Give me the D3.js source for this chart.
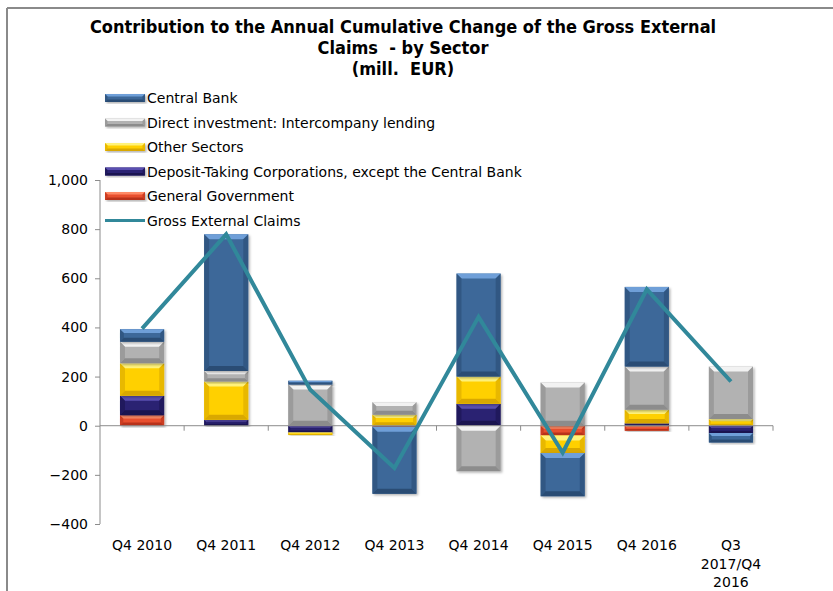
<!DOCTYPE html>
<html>
<head>
<meta charset="utf-8">
<script src="https://cdn.jsdelivr.net/npm/d3@7/dist/d3.min.js"></script>
<style>
  html, body { margin: 0; padding: 0; background: #fff; }
  svg { display: block; }
  text { font-family: "DejaVu Sans", sans-serif; fill: #000; }
  text.title { font-family: "DejaVu Sans Condensed", "DejaVu Sans", sans-serif; }
</style>
</head>
<body>
<svg id="chart" width="833" height="591"></svg>
<script>
// Quarterly contributions by sector (mill. EUR)
const categories = ["Q4 2010", "Q4 2011", "Q4 2012", "Q4 2013", "Q4 2014", "Q4 2015", "Q4 2016", "Q3 2017/Q4 2016"];
const categoryLines = [["Q4 2010"], ["Q4 2011"], ["Q4 2012"], ["Q4 2013"], ["Q4 2014"], ["Q4 2015"], ["Q4 2016"], ["Q3", "2017/Q4", "2016"]];
const generalGovernment = [43, 0, 0, -4, 0, -40, -20, 0];
const depositTaking = [79, 24, -28, 0, 89, 0, 10, -30];
const otherSectors = [132, 156, -10, 45, 111, -71, 55, 27];
const directInvestment = [88, 43, 168, 51, -185, 176, 176, 214];
const centralBank = [51, 556, 15, -273, 419, -176, 324, -38];
const grossExternalClaims = [395, 779, 146, -172, 443, -110, 555, 180];
const yTicks = [-400, -200, 0, 200, 400, 600, 800, 1000];

// Stack order from zero outward; legend lists them in reverse
const series = [
  { key: "gg", name: "General Government", values: generalGovernment, base: "#E8502E", light: "#FF8A66", dark: "#B8321A" },
  { key: "dt", name: "Deposit-Taking Corporations, except the Central Bank", values: depositTaking, base: "#2B2272", light: "#5A4FB0", dark: "#1A1450" },
  { key: "os", name: "Other Sectors", values: otherSectors, base: "#FFD000", light: "#FFF27A", dark: "#D9A800" },
  { key: "di", name: "Direct investment: Intercompany lending", values: directInvestment, base: "#B2B2B2", light: "#F2F2F2", dark: "#8C8C8C" },
  { key: "cb", name: "Central Bank", values: centralBank, base: "#3C6899", light: "#6F9FD8", dark: "#2A4C74" }
];
const lineColor = "#31889A";

const svg = d3.select("#chart");

// Outer frame (top and left edges)
svg.append("line").attr("x1", 7).attr("x2", 833).attr("y1", 8).attr("y2", 8).attr("stroke", "#8a8a8a").attr("stroke-width", 2);
svg.append("line").attr("x1", 7).attr("x2", 7).attr("y1", 8).attr("y2", 591).attr("stroke", "#8a8a8a").attr("stroke-width", 2);

// Title
const title = svg.append("text").attr("class", "title").attr("text-anchor", "middle").attr("font-weight", "bold").attr("font-size", 18);
[["Contribution to the Annual Cumulative Change of the Gross External", 33], ["Claims  - by Sector", 54], ["(mill.  EUR)", 75]]
  .forEach(([t, y]) => title.append("tspan").attr("x", 403).attr("y", y).attr("xml:space", "preserve").text(t));

// Scales
const x = d3.scaleBand().domain(categories).range([100, 773]).paddingInner(0.475).paddingOuter(0.2375);
const y = d3.scaleLinear().domain([-400, 1000]).range([524, 180]);

// Drop shadow for bars
const defs = svg.append("defs");
const f = defs.append("filter").attr("id", "shadow").attr("x", "-20%").attr("y", "-20%").attr("width", "140%").attr("height", "140%");
f.append("feDropShadow").attr("dx", 1.5).attr("dy", 1.5).attr("stdDeviation", 1.2).attr("flood-color", "#000").attr("flood-opacity", 0.3);

// Axes
const yAxis = svg.append("g").attr("transform", "translate(100,0)")
  .call(d3.axisLeft(y).tickValues(yTicks).tickSize(5).tickPadding(7).tickFormat(d3.format(",")));
yAxis.select(".domain").attr("stroke", "#8c8c8c").attr("d", `M0,${y(1000)}V${y(-400)}`);
yAxis.selectAll(".tick line").attr("stroke", "#8c8c8c");
yAxis.selectAll(".tick text").attr("font-size", 14).attr("font-family", "DejaVu Sans").attr("fill", "#000");

// Stacked bars
const rows = categories.map((c, i) => {
  const r = { cat: c };
  series.forEach(s => r[s.key] = s.values[i]);
  return r;
});
const stack = d3.stack().keys(series.map(s => s.key)).offset(d3.stackOffsetDiverging)(rows);

function bevelRect(g, x0, y0, w, h, s) {
  const e = Math.max(0.5, Math.min(5, h / 3.2));
  const cell = g.append("g");
  cell.append("rect").attr("x", x0).attr("y", y0).attr("width", w).attr("height", h).attr("fill", s.base).attr("filter", "url(#shadow)");
  // top bevel
  cell.append("path").attr("d", `M${x0},${y0}H${x0 + w}L${x0 + w - e},${y0 + e}H${x0 + e}Z`).attr("fill", s.light);
  // bottom bevel
  cell.append("path").attr("d", `M${x0},${y0 + h}H${x0 + w}L${x0 + w - e},${y0 + h - e}H${x0 + e}Z`).attr("fill", s.dark);
  // side bevels
  cell.append("path").attr("d", `M${x0},${y0}L${x0 + e},${y0 + e}V${y0 + h - e}L${x0},${y0 + h}Z`).attr("fill", s.dark).attr("opacity", 0.6);
  cell.append("path").attr("d", `M${x0 + w},${y0}L${x0 + w - e},${y0 + e}V${y0 + h - e}L${x0 + w},${y0 + h}Z`).attr("fill", s.dark).attr("opacity", 0.6);
}

const barG = svg.append("g");
stack.forEach((layer, li) => {
  const s = series[li];
  layer.forEach((d, i) => {
    if (d[1] === d[0]) return;
    const top = y(Math.max(d[0], d[1]));
    const bot = y(Math.min(d[0], d[1]));
    bevelRect(barG, x(categories[i]), top, x.bandwidth(), bot - top, s);
  });
});

// Category axis at zero
const xAxisG = svg.append("g");
xAxisG.append("line").attr("x1", 100).attr("x2", 773).attr("y1", y(0)).attr("y2", y(0)).attr("stroke", "#8c8c8c");
const bounds = categories.map(c => x(c) - x.step() * x.paddingInner() / 2).concat([773]);
xAxisG.selectAll("line.tk").data(bounds.slice(1)).join("line").attr("class", "tk")
  .attr("x1", d => d).attr("x2", d => d).attr("y1", y(0)).attr("y2", y(0) + 5).attr("stroke", "#8c8c8c");

// Category labels
categoryLines.forEach((lines, i) => {
  const t = svg.append("text").attr("text-anchor", "middle").attr("font-size", 14);
  lines.forEach((l, j) => t.append("tspan").attr("x", x(categories[i]) + x.bandwidth() / 2).attr("y", 550 + j * 18.5).text(l));
});

// Gross External Claims line
const line = d3.line().x((d, i) => x(categories[i]) + x.bandwidth() / 2).y(d => y(d));
svg.append("path").datum(grossExternalClaims).attr("d", line).attr("fill", "none")
  .attr("stroke", lineColor).attr("stroke-width", 4).attr("stroke-linejoin", "miter");

// Legend
const legend = svg.append("g").attr("transform", "translate(105,98)");
const legendItems = series.slice().reverse();
legendItems.forEach((s, i) => {
  const g = legend.append("g").attr("transform", `translate(0,${i * 24.5})`);
  bevelRect(g, 0, -4, 40, 8, s);
  g.append("text").attr("x", 42).attr("y", 5).attr("font-size", 14).text(s.name);
});
const lg = legend.append("g").attr("transform", `translate(0,${5 * 24.5})`);
lg.append("line").attr("x1", 0).attr("x2", 40).attr("y1", 0).attr("y2", 0).attr("stroke", lineColor).attr("stroke-width", 3);
lg.append("text").attr("x", 42).attr("y", 5).attr("font-size", 14).text("Gross External Claims");
</script>
</body>
</html>
